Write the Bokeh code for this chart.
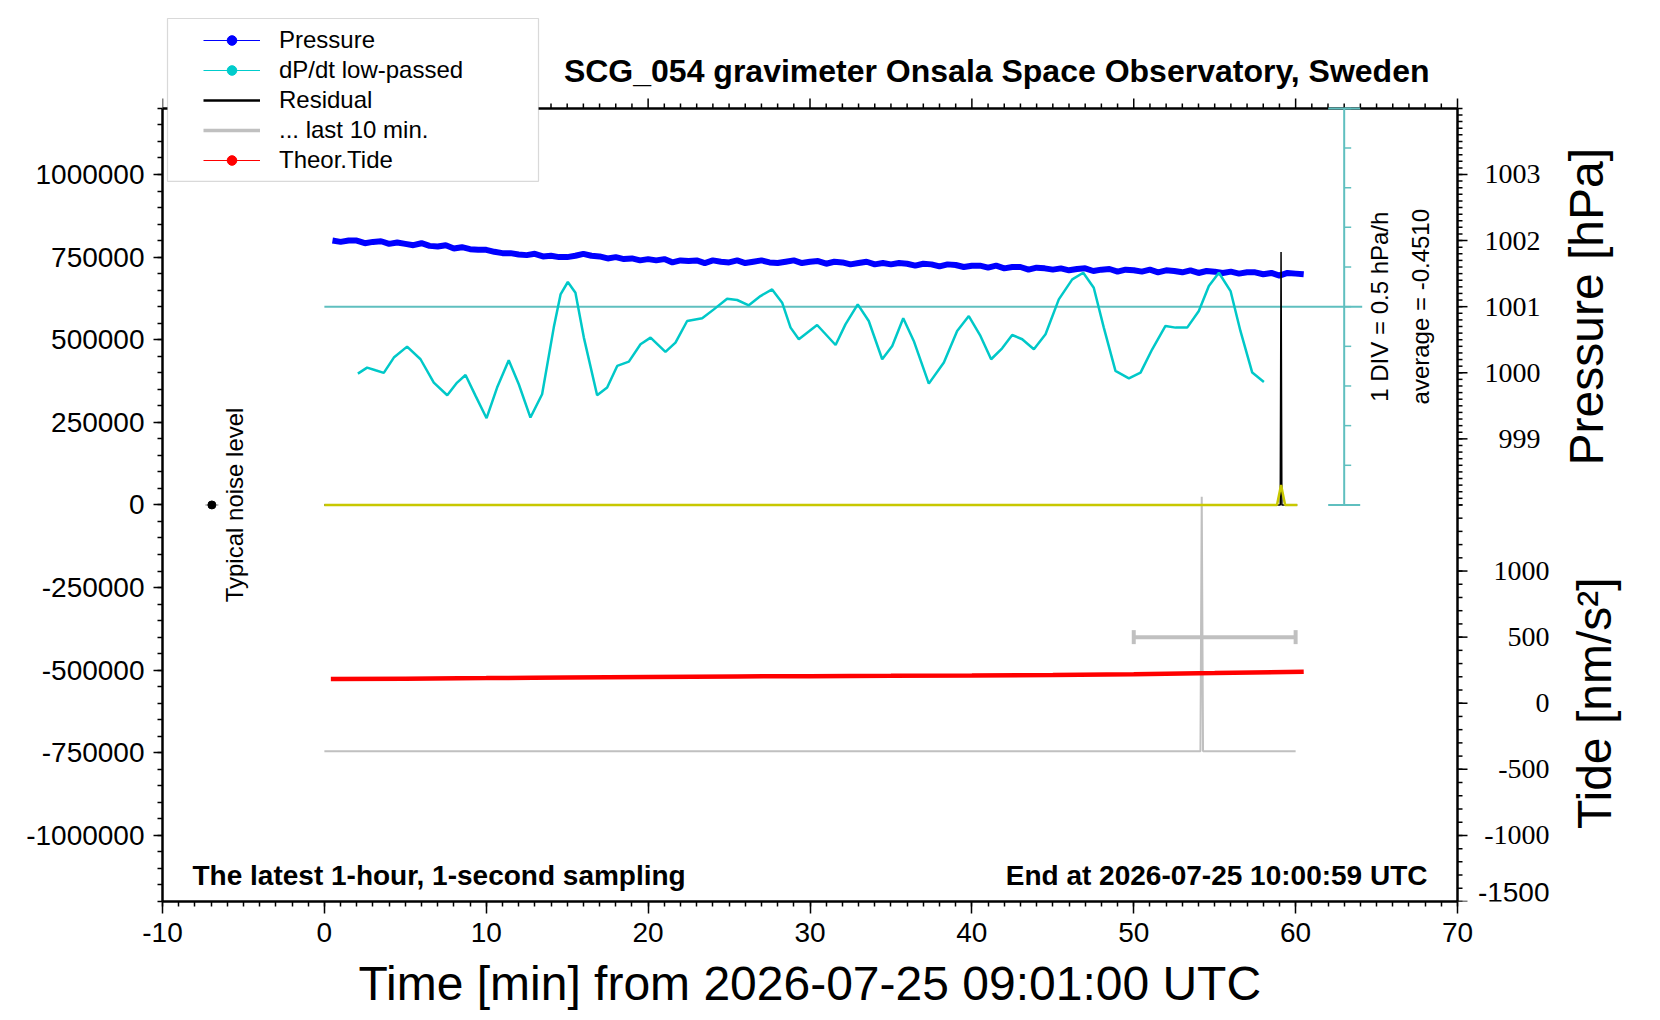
import math
import numpy as np
from bokeh.plotting import figure
from bokeh.models import (Range1d, FixedTicker, SingleIntervalTicker, NumeralTickFormatter, Title,
                          Label, LabelSet, Legend, LegendItem, BoxAnnotation, Whisker, TeeHead,
                          ColumnDataSource)
from bokeh.embed import file_html
from bokeh.resources import INLINE

FONT = "Liberation Sans"

# ---------------- data ----------------
# Pressure [hPa], sampled every 0.5 min from 0.5 to 60.5 min
pressure_min = [i / 2 for i in range(1, 122)]
pressure_hpa = [
    1002.00, 1001.98, 1002.00, 1002.00, 1001.96, 1001.98, 1001.99, 1001.95, 1001.97, 1001.95,
    1001.93, 1001.96, 1001.92, 1001.91, 1001.93, 1001.88, 1001.90, 1001.87, 1001.86, 1001.86,
    1001.83, 1001.81, 1001.81, 1001.79, 1001.78, 1001.80, 1001.76, 1001.77, 1001.75, 1001.75,
    1001.77, 1001.80, 1001.77, 1001.76, 1001.73, 1001.75, 1001.72, 1001.73, 1001.70, 1001.72,
    1001.70, 1001.72, 1001.67, 1001.70, 1001.69, 1001.70, 1001.66, 1001.70, 1001.68, 1001.67,
    1001.70, 1001.66, 1001.68, 1001.70, 1001.67, 1001.66, 1001.68, 1001.70, 1001.66, 1001.68,
    1001.69, 1001.65, 1001.68, 1001.67, 1001.64, 1001.66, 1001.68, 1001.64, 1001.66, 1001.64,
    1001.66, 1001.65, 1001.62, 1001.65, 1001.64, 1001.61, 1001.64, 1001.63, 1001.60, 1001.62,
    1001.62, 1001.59, 1001.62, 1001.58, 1001.60, 1001.60, 1001.56, 1001.59, 1001.58, 1001.56,
    1001.58, 1001.55, 1001.57, 1001.58, 1001.54, 1001.56, 1001.57, 1001.53, 1001.56, 1001.55,
    1001.53, 1001.56, 1001.52, 1001.55, 1001.54, 1001.52, 1001.55, 1001.51, 1001.54, 1001.53,
    1001.51, 1001.53, 1001.50, 1001.52, 1001.52, 1001.49, 1001.51, 1001.47, 1001.51, 1001.50,
    1001.49,
]

# dP/dt low-passed [hPa/h]
dpdt_min = [2.07, 2.64, 3.16, 3.67, 4.29, 5.11, 5.94, 6.76, 7.59, 8.20, 8.72, 9.34, 10.02, 10.67,
            11.39, 12.01, 12.73, 13.45, 14.17, 14.59, 15.04, 15.51, 16.03, 16.85, 17.47, 18.09,
            18.81, 19.53, 20.15, 21.07, 21.69, 22.41, 23.34, 24.06, 24.88, 25.50, 26.22, 26.94,
            27.66, 28.28, 28.80, 29.31, 30.44, 31.58, 32.19, 32.95, 33.63, 34.46, 35.08, 35.76,
            36.41, 37.34, 38.27, 39.09, 39.81, 40.53, 41.19, 41.87, 42.49, 43.11, 43.83, 44.55,
            45.37, 46.20, 46.88, 47.53, 48.15, 48.87, 49.70, 50.42, 51.14, 51.96, 52.58, 53.30,
            54.02, 54.64, 55.26, 55.98, 56.59, 57.32, 58.04]
dpdt_val = [-1.295, -1.219, -1.253, -1.286, -1.093, -0.955, -1.114, -1.408, -1.568, -1.408, -1.312,
            -1.576, -1.857, -1.471, -1.127, -1.429, -1.849, -1.555, -0.715, -0.296, -0.140, -0.275,
            -0.841, -1.568, -1.471, -1.198, -1.144, -0.925, -0.841, -1.022, -0.904, -0.632, -0.598,
            -0.485, -0.350, -0.367, -0.434, -0.317, -0.233, -0.401, -0.715, -0.862, -0.682, -0.934,
            -0.674, -0.422, -0.632, -1.114, -0.946, -0.598, -0.883, -1.421, -1.156, -0.757, -0.569,
            -0.820, -1.114, -0.976, -0.808, -0.862, -0.988, -0.799, -0.359, -0.107, -0.023, -0.212,
            -0.715, -1.261, -1.354, -1.282, -0.988, -0.694, -0.715, -0.715, -0.506, -0.191, -0.023,
            -0.254, -0.757, -1.282, -1.400]
dpdt_average = -0.4510
dpdt_div = 0.5          # 1 DIV = 0.5 hPa/h

# Residual (raw, black) and smoothed residual (yellow) [nm/s^2]
resid_min = [0.0, 59.05, 59.10, 59.12, 59.15, 60.1]
resid_val = [0, 0, 765600, 444000, 0, 0]
resid_smooth_min = [0.0, 58.85, 59.10, 59.35, 60.1]
resid_smooth_val = [0, 0, 60000, 0, 0]

# ... last 10 min.
last10_min = [0.0, 54.12, 54.20, 54.28, 60.0]
last10_val = [-745000, -745000, 25000, -745000, -745000]
last10_bar_y = [-400000]
last10_bar_lo = [50.0]
last10_bar_hi = [60.0]

# Theoretical tide [nm/s^2]
tide_min = [0.4, 5, 10, 12.9, 15, 20, 25.5, 30, 35, 40, 45, 50, 55, 60.5]
tide_val = [183, 186, 190, 193, 195, 199, 203, 205, 207, 210, 214, 220, 228, 239]

# Typical noise level
noise_min = [-6.95]
noise_val = [0]
noise_lo = [-7.35]
noise_hi = [-6.55]

# axis ranges / ticks
x_range = (-10, 70)
x_major = [-10, 0, 10, 20, 30, 40, 50, 60, 70]
main_range = (-1200000, 1200000)
pressure_range = (992, 1004)
tide_range = (-1500, 4500)
left_ticks = [-1000000, -750000, -500000, -250000, 0, 250000, 500000, 750000, 1000000]
pressure_ticks = [999, 1000, 1001, 1002, 1003]
pressure_minor = [round(998 + k * 0.1, 1) for k in range(0, 61)]
tide_ticks = [-1500, -1000, -500, 0, 500, 1000]
tide_minor = [-1500 + k * 100 for k in range(0, 31)]

# ---------------- layout (pixels) ----------------
W, H = 1650, 1020
BOX_L, BOX_R, BOX_T, BOX_B = 162, 1457, 108, 902     # the drawn box
FRAME_T, FRAME_R = 16, 1640                        # frame extends above / right of the box
UPP_X = (x_range[1] - x_range[0]) / (BOX_R - BOX_L)             # minutes per pixel
UPP_Y = (main_range[1] - main_range[0]) / (BOX_B - BOX_T)       # main units per pixel
ext_top = (BOX_T - FRAME_T) / (BOX_B - BOX_T)


def extend(rng):
    lo, hi = rng
    return (lo, hi + ext_top * (hi - lo))


def px_x(px):          # canvas pixel -> minutes
    return x_range[0] + (px - BOX_L) * UPP_X


def px_y(py):          # canvas pixel -> main units
    return main_range[1] - (py - BOX_T) * UPP_Y


p = figure(width=W, height=H, output_backend="svg", toolbar_location=None,
           x_range=Range1d(x_range[0], px_x(FRAME_R)), y_range=Range1d(*extend(main_range)),
           min_border_left=BOX_L, min_border_right=W - FRAME_R, min_border_top=FRAME_T,
           min_border_bottom=H - BOX_B)
p.xgrid.visible = False
p.ygrid.visible = False
p.outline_line_color = None
p.background_fill_color = "white"
p.border_fill_color = "white"

p.extra_y_ranges = {
    "pressure": Range1d(*extend(pressure_range)),
    "tide": Range1d(*extend(tide_range)),
    "dpdt": Range1d(*extend((dpdt_average - 15 * dpdt_div, dpdt_average + 5 * dpdt_div))),
}

# ---- bottom axis ----
xa = p.xaxis[0]
xa.ticker = SingleIntervalTicker(interval=10, num_minor_ticks=10)
xa.bounds = x_range
xa.formatter = NumeralTickFormatter(format="0")
xa.major_tick_out = 12
xa.major_label_standoff = 9

# x axis title, centred under the box (the frame is wider than the box)
XLABEL = "Time [min] from 2026-07-25 09:01:00 UTC"
p.add_layout(Title(text=XLABEL, align="left", offset=196, standoff=21, text_font=FONT,
                   text_font_size="48px", text_font_style="normal", text_color="black"), "below")

# ---- left axis ----
ya = p.yaxis[0]
ya.ticker = FixedTicker(ticks=left_ticks, minor_ticks=list(range(-1200000, 1200001, 50000)))
ya.formatter = NumeralTickFormatter(format="0")
ya.bounds = main_range
ya.major_tick_out = 9
ya.major_label_standoff = 9

for ax in [xa, ya]:
    ax.axis_line_color = "black"
    ax.axis_line_width = 2.5
    ax.major_tick_line_color = "black"
    ax.minor_tick_line_color = "black"
    ax.major_tick_line_width = 1.5
    ax.minor_tick_line_width = 1.5
    ax.major_tick_in = 0
    ax.minor_tick_in = 0
    ax.minor_tick_out = 5
    ax.major_label_text_font = FONT
    ax.major_label_text_font_size = "28px"
    ax.major_label_text_color = "black"

# ---- top edge with ticks ----
x_minor = [v for v in range(x_range[0], x_range[1] + 1) if v not in x_major]
top_y = main_range[1]
p.segment(x0=[x_range[0]], y0=[top_y], x1=[x_range[1]], y1=[top_y], line_color="black", line_width=2.5)
p.segment(x0=x_major, y0=[top_y] * len(x_major), x1=x_major, y1=[top_y + 10 * UPP_Y] * len(x_major),
          line_color="black", line_width=1.5)
p.segment(x0=x_minor, y0=[top_y] * len(x_minor), x1=x_minor, y1=[top_y + 5 * UPP_Y] * len(x_minor),
          line_color="black", line_width=1.5)

# ---- right edge: pressure (upper half) and tide (lower half) scales ----
rx = x_range[1]
p.segment(x0=[rx], y0=[main_range[0]], x1=[rx], y1=[main_range[1]], line_color="black", line_width=2.5)
for name, major, minor in [("pressure", pressure_ticks, pressure_minor), ("tide", tide_ticks, tide_minor)]:
    p.segment(x0=[rx] * len(minor), y0=minor, x1=[rx + 5 * UPP_X] * len(minor), y1=minor,
              y_range_name=name, line_color="black", line_width=1.5)
    p.segment(x0=[rx] * len(major), y0=major, x1=[rx + 10 * UPP_X] * len(major), y1=major,
              y_range_name=name, line_color="black", line_width=1.5)
p.add_layout(LabelSet(source=ColumnDataSource(dict(x=[rx + 83 * UPP_X] * len(pressure_ticks),
                                                   y=pressure_ticks,
                                                   t=[str(v) for v in pressure_ticks])),
                      x="x", y="y", text="t", y_range_name="pressure", text_align="right",
                      text_baseline="middle", text_font=FONT, text_font_size="28px", text_color="black"))
p.add_layout(LabelSet(source=ColumnDataSource(dict(x=[rx + 92 * UPP_X] * (len(tide_ticks) - 1),
                                                   y=tide_ticks[1:],
                                                   t=[str(v) for v in tide_ticks[1:]])),
                      x="x", y="y", text="t", y_range_name="tide", text_align="right",
                      text_baseline="middle", text_font=FONT, text_font_size="28px", text_color="black"))
# lowest tide label sits on the bottom edge: keep it just above the edge
p.add_layout(Label(x=rx + 92 * UPP_X, y=tide_ticks[0], y_range_name="tide", text=str(tide_ticks[0]),
                   text_align="right", text_baseline="bottom", text_font=FONT,
                   text_font_size="28px", text_color="black"))

TEAL = "#5fbfbf"
CYAN = "#00c8c8"
GRAY = "#c0c0c0"
YELLOW = "#c8c800"

# dP/dt reference scale (teal)
axis_x = 63.0
div_y = [dpdt_average + k * dpdt_div for k in range(-5, 6)]
p.segment(x0=[axis_x], y0=[div_y[0]], x1=[axis_x], y1=[div_y[-1]], y_range_name="dpdt",
          line_color=TEAL, line_width=2)
p.segment(x0=[axis_x] * len(div_y), y0=div_y, x1=[axis_x + 7 * UPP_X] * len(div_y), y1=div_y,
          y_range_name="dpdt", line_color=TEAL, line_width=1.5)
p.segment(x0=[axis_x - 16 * UPP_X] * 2, y0=[div_y[0], div_y[-1]], x1=[axis_x + 16 * UPP_X] * 2,
          y1=[div_y[0], div_y[-1]], y_range_name="dpdt", line_color=TEAL, line_width=2)
p.segment(x0=[0.0], y0=[dpdt_average], x1=[axis_x + 18 * UPP_X], y1=[dpdt_average], y_range_name="dpdt",
          line_color=TEAL, line_width=2)

# series
p.line(pressure_min, pressure_hpa, y_range_name="pressure", line_color="blue", line_width=6)
p.line(dpdt_min, dpdt_val, y_range_name="dpdt", line_color=CYAN, line_width=2.5)
p.line(last10_min, last10_val, line_color=GRAY, line_width=2)
p.add_layout(Whisker(source=ColumnDataSource(dict(b=last10_bar_y, lo=last10_bar_lo, hi=last10_bar_hi)),
                     base="b", lower="lo", upper="hi", dimension="width", line_color=GRAY, line_width=4,
                     upper_head=TeeHead(size=14, line_color=GRAY, line_width=4),
                     lower_head=TeeHead(size=14, line_color=GRAY, line_width=4)))
p.line(resid_min, resid_val, line_color="black", line_width=1.5)
p.line(resid_smooth_min, resid_smooth_val, line_color=YELLOW, line_width=2.5)
p.line(tide_min, tide_val, y_range_name="tide", line_color="red", line_width=4.5)
p.segment(x0=noise_lo, y0=noise_val, x1=noise_hi, y1=noise_val, line_color=GRAY, line_width=2)
p.scatter(noise_min, noise_val, marker="circle", size=8, color="black")

# legend box + legend
p.add_layout(BoxAnnotation(left=px_x(167), right=px_x(538), bottom=px_y(181), top=px_y(18),
                           fill_color="white", fill_alpha=1.0, line_color="#808080", line_width=1.2))
NAN = np.array([np.nan])
lg = [
    ("Pressure", [p.line(NAN, NAN, line_color="blue", line_width=1),
                  p.scatter(NAN, NAN, marker="circle", color="blue")]),
    ("dP/dt low-passed", [p.line(NAN, NAN, line_color="#00cccc", line_width=1),
                          p.scatter(NAN, NAN, marker="circle", color="#00cccc")]),
    ("Residual", [p.line(NAN, NAN, line_color="black", line_width=2.5)]),
    ("... last 10 min.", [p.line(NAN, NAN, line_color=GRAY, line_width=3.5)]),
    ("Theor.Tide", [p.line(NAN, NAN, line_color="red", line_width=1),
                    p.scatter(NAN, NAN, marker="circle", color="red")]),
]
legend = Legend(items=[LegendItem(label=t, renderers=r) for t, r in lg], location=(41, BOX_B - 176),
                border_line_color=None, background_fill_alpha=0, label_text_font=FONT,
                label_text_font_size="24px", label_text_color="black", glyph_width=57,
                glyph_height=24, label_height=30, label_standoff=19, spacing=0, padding=0, margin=0)
p.add_layout(legend)


# texts
def lab(x, y, text, size, align="center", baseline="middle", angle=0.0, bold=False):
    p.add_layout(Label(x=x, y=y, text=text, text_font=FONT, text_font_size=size, text_align=align,
                       text_baseline=baseline, angle=angle,
                       text_font_style="bold" if bold else "normal", text_color="black"))


lab(px_x(1429), px_y(71), "SCG_054 gravimeter Onsala Space Observatory, Sweden", "32px", align="right", bold=True)
lab(px_x(192), px_y(876), "The latest 1-hour, 1-second sampling", "28px", align="left", bold=True)
lab(px_x(1427), px_y(876), "End at 2026-07-25 10:00:59 UTC", "28px", align="right", bold=True)
lab(65.2, 600000, "1 DIV = 0.5 hPa/h", "24px", angle=math.pi / 2)
lab(67.7, 600000, "average = -0.4510", "24px", angle=math.pi / 2)
lab(-5.55, 0, "Typical noise level", "24px", angle=math.pi / 2)
lab(px_x(1586), 600000, "Pressure [hPa]", "48px", angle=math.pi / 2)
lab(px_x(1594), -600000, "Tide [nm/s²]", "48px", angle=math.pi / 2)

open("out.html", "w").write(file_html(p, INLINE))
